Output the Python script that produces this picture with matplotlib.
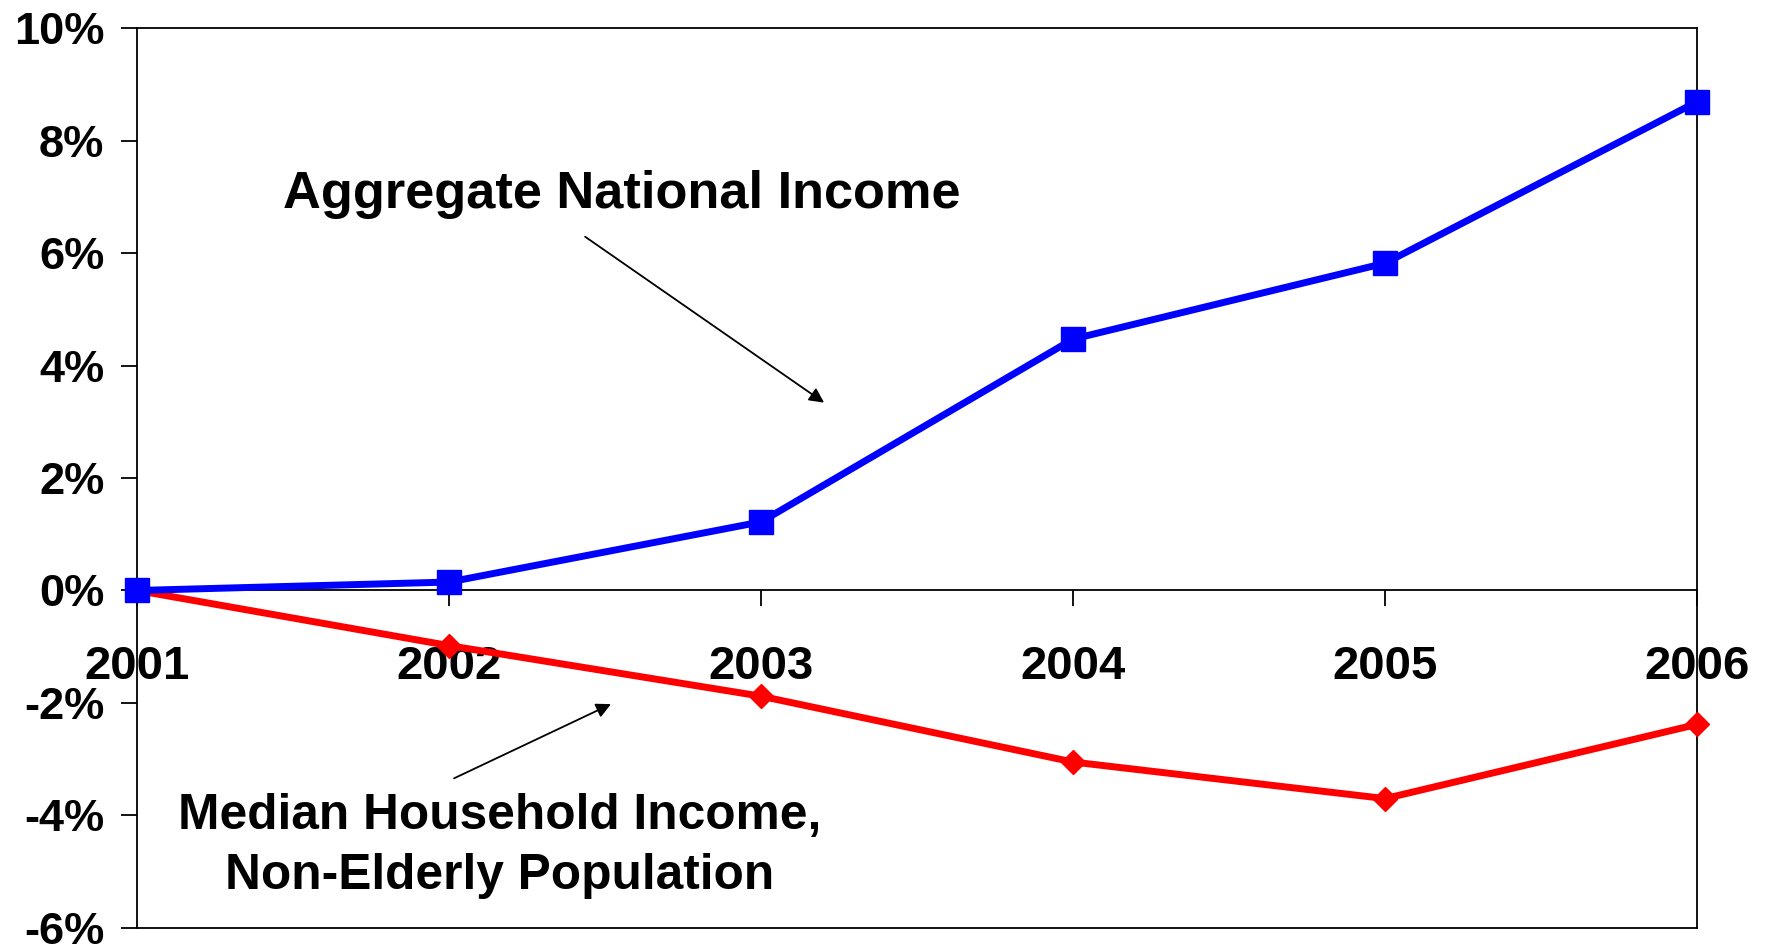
import matplotlib
matplotlib.use("Agg")
import matplotlib.pyplot as plt

plt.rcParams['font.family'] = ['Liberation Sans', 'DejaVu Sans']
plt.rcParams['font.weight'] = 'bold'

# data (percent change since 2001)
years = [2001, 2002, 2003, 2004, 2005, 2006]
aggregate = [0.0, 0.15, 1.22, 4.47, 5.82, 8.69]
median = [0.0, -0.98, -1.88, -3.05, -3.70, -2.38]
yticks = [-6, -4, -2, 0, 2, 4, 6, 8, 10]
ytick_labels = ["-6%", "-4%", "-2%", "0%", "2%", "4%", "6%", "8%", "10%"]

fig = plt.figure(figsize=(17.66, 9.44), dpi=100)
ax = fig.add_axes([0.0776, 0.017, 0.961 - 0.0776, 0.9703 - 0.017])

ax.plot(years, median, color='#FF0000', lw=5, marker='D', ms=12.5,
        clip_on=False, zorder=3)
ax.plot(years, aggregate, color='#0000FF', lw=5, marker='s', ms=17,
        clip_on=False, zorder=4)

ax.set_xlim(2001, 2006)
ax.set_ylim(-6, 10)

# frame + x axis crossing at zero
for s in ['left', 'right', 'top', 'bottom']:
    ax.spines[s].set_linewidth(1.3)
    ax.spines[s].set_color('black')
ax.spines['bottom'].set_position(('data', 0))
ax.axhline(-6, color='black', lw=1.3, clip_on=False)

ax.set_yticks(yticks)
ax.set_yticklabels(ytick_labels, fontsize=32.5, fontweight='bold')
ax.set_xticks(years)
ax.set_xticklabels([str(y) for y in years], fontsize=34, fontweight='bold')
ax.tick_params(axis='y', direction='out', length=11.5, width=1.3, pad=12)
ax.tick_params(axis='x', direction='out', length=11.5, width=1.3, pad=28)

# annotations
ax.text(2002.555, 7.04, "Aggregate National Income", fontsize=37.7,
        fontweight='bold', ha='center', va='center')
ax.annotate('', xy=(2003.202, 3.34), xytext=(2002.436, 6.29),
            arrowprops=dict(arrowstyle='-|>', color='black', lw=1.3,
                            mutation_scale=22, shrinkA=0, shrinkB=0))

ax.text(2002.163, -4.545, "Median Household Income,\nNon-Elderly Population",
        fontsize=35.7, fontweight='bold', ha='center', va='center',
        linespacing=1.37)
ax.annotate('', xy=(2002.519, -2.02), xytext=(2002.016, -3.34),
            arrowprops=dict(arrowstyle='-|>', color='black', lw=1.3,
                            mutation_scale=22, shrinkA=0, shrinkB=0))

fig.savefig("out.png", dpi=100)
